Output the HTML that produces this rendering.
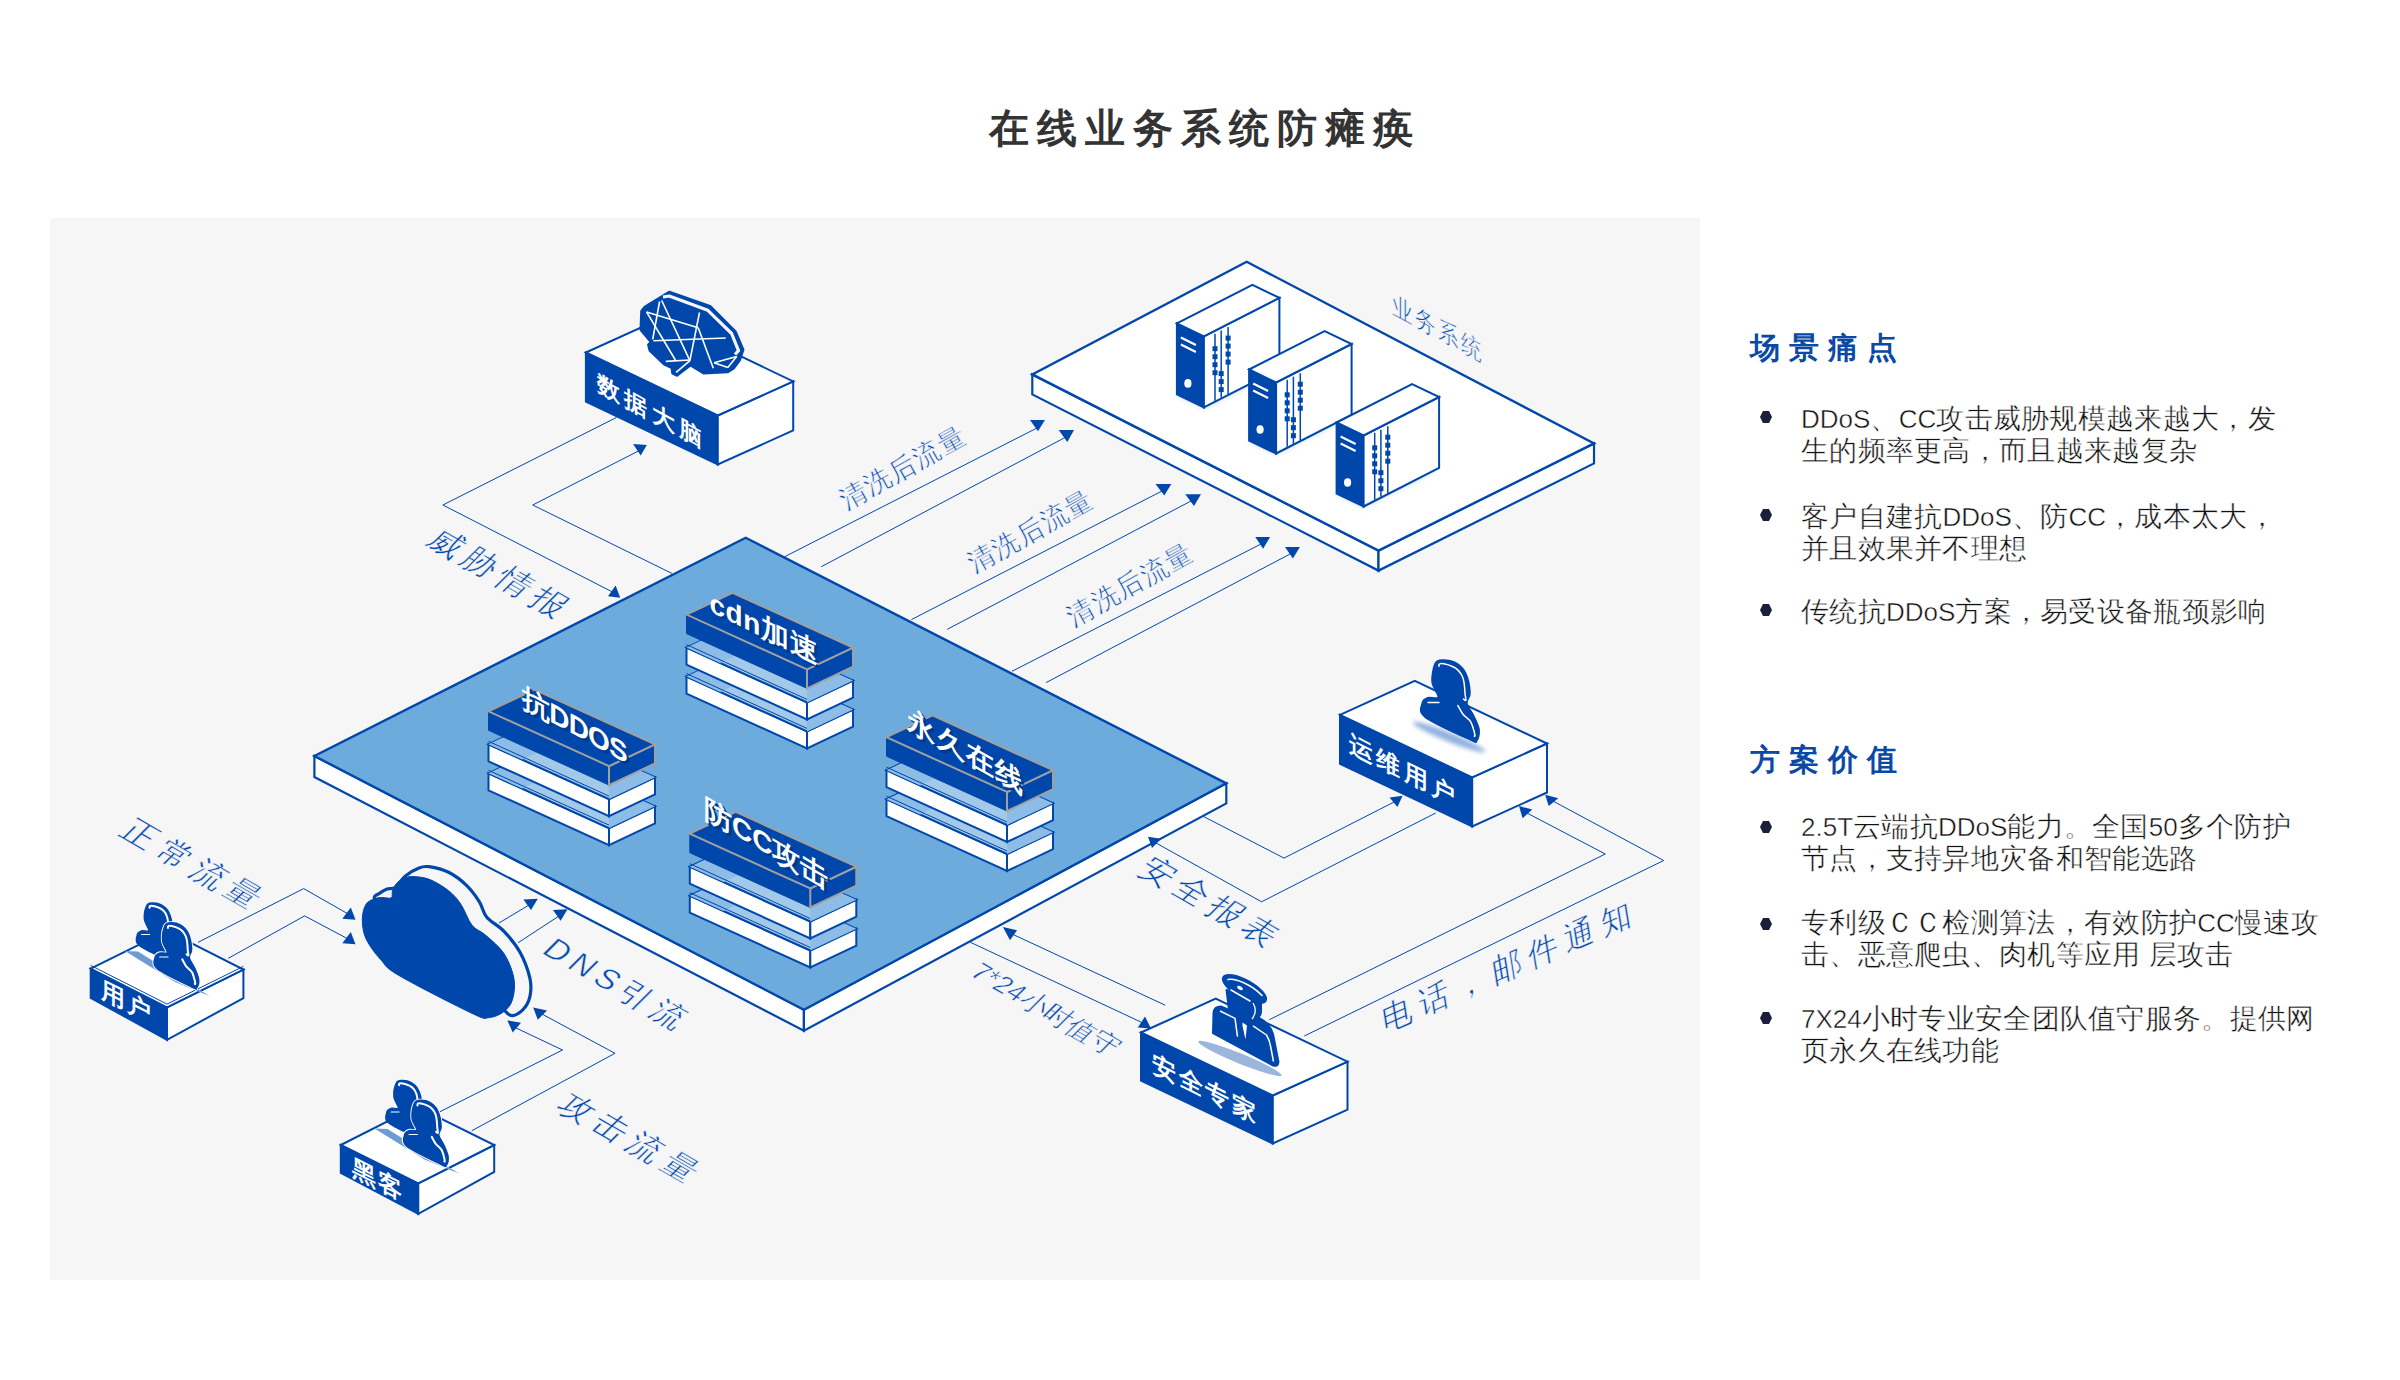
<!DOCTYPE html>
<html><head><meta charset="utf-8">
<style>
html,body{margin:0;padding:0;background:#fff;}
body{width:2400px;height:1380px;position:relative;overflow:hidden;font-family:"Liberation Sans",sans-serif;}
.abs{position:absolute;white-space:nowrap;}
#title{left:5px;width:2400px;top:100px;text-align:center;font-size:40px;font-weight:700;color:#333;letter-spacing:8px;line-height:56px;}
.h{font-size:30px;font-weight:700;color:#0a4aa6;letter-spacing:9px;line-height:40px;}
.li{font-size:28px;color:#111;line-height:32px;letter-spacing:0.3px;-webkit-text-stroke:0.45px #fff;}
.lat{font-size:26px;letter-spacing:0;}
.dot{position:absolute;width:12px;height:12px;background:#1b1f3b;clip-path:polygon(25% 0,75% 0,100% 50%,75% 100%,25% 100%,0 50%);}
svg{position:absolute;left:0;top:0;}
.lt{stroke:#f6f6f6;stroke-width:0.6px;}
</style></head><body>
<div class="abs" style="left:50px;top:218px;width:1650px;height:1062px;background:#f6f6f6;"></div>
<div id="title" class="abs">在线业务系统防瘫痪</div>
<div class="abs h" style="left:1750px;top:328px;">场景痛点</div>
<div class="abs h" style="left:1750px;top:740px;">方案价值</div>
<div class="dot" style="left:1760px;top:411px;"></div>
<div class="abs li" style="left:1801px;top:403px;"><span class="lat">DDoS</span>、<span class="lat">CC</span>攻击威胁规模越来越大，发<br>生的频率更高，而且越来越复杂</div>
<div class="dot" style="left:1760px;top:509px;"></div>
<div class="abs li" style="left:1801px;top:501px;">客户自建抗<span class="lat">DDoS</span>、防<span class="lat">CC</span>，成本太大，<br>并且效果并不理想</div>
<div class="dot" style="left:1760px;top:604px;"></div>
<div class="abs li" style="left:1801px;top:596px;">传统抗<span class="lat">DDoS</span>方案，易受设备瓶颈影响</div>
<div class="dot" style="left:1760px;top:821px;"></div>
<div class="abs li" style="left:1801px;top:811px;"><span class="lat">2.5T</span>云端抗<span class="lat">DDoS</span>能力。全国<span class="lat">50</span>多个防护<br>节点，支持异地灾备和智能选路</div>
<div class="dot" style="left:1760px;top:918px;"></div>
<div class="abs li" style="left:1801px;top:907px;">专利级ＣＣ检测算法，有效防护<span class="lat">CC</span>慢速攻<br>击、恶意爬虫、肉机等应用 层攻击</div>
<div class="dot" style="left:1760px;top:1012px;"></div>
<div class="abs li" style="left:1801px;top:1003px;"><span class="lat">7X24</span>小时专业安全团队值守服务。提供网<br>页永久在线功能</div>
<svg width="2400" height="1380" viewBox="0 0 2400 1380" style="font-family:'Liberation Sans',sans-serif"><polyline points="616.4,417.5 442.9,505.0 614.8,593.2" fill="none" stroke="#0047ab" stroke-width="1.0" />
<polyline points="671.9,573.4 532.7,505.0 640.0,450.2" fill="none" stroke="#0047ab" stroke-width="1.0" />
<polyline points="784.7,556.7 1037.0,428.0" fill="none" stroke="#0047ab" stroke-width="1.0" />
<polyline points="821.3,566.7 1066.0,437.0" fill="none" stroke="#0047ab" stroke-width="1.0" />
<polyline points="911.4,619.6 1162.0,491.0" fill="none" stroke="#0047ab" stroke-width="1.0" />
<polyline points="947.3,629.3 1191.0,501.0" fill="none" stroke="#0047ab" stroke-width="1.0" />
<polyline points="1012.0,671.3 1261.0,544.0" fill="none" stroke="#0047ab" stroke-width="1.0" />
<polyline points="1046.1,682.6 1291.0,553.5" fill="none" stroke="#0047ab" stroke-width="1.0" />
<polyline points="198.1,942.3 303.7,888.6 350.0,915.0" fill="none" stroke="#0047ab" stroke-width="1.0" />
<polyline points="228.3,958.3 304.6,915.9 350.0,940.0" fill="none" stroke="#0047ab" stroke-width="1.0" />
<polyline points="499.0,923.0 529.0,905.0" fill="none" stroke="#0047ab" stroke-width="1.0" />
<polyline points="518.0,942.8 559.0,916.0" fill="none" stroke="#0047ab" stroke-width="1.0" />
<polyline points="440.0,1111.7 562.5,1050.0 514.0,1027.0" fill="none" stroke="#0047ab" stroke-width="1.0" />
<polyline points="471.7,1130.8 615.0,1053.3 540.0,1013.0" fill="none" stroke="#0047ab" stroke-width="1.0" />
<polyline points="1012.0,934.0 1165.2,1005.2" fill="none" stroke="#0047ab" stroke-width="1.0" />
<polyline points="970.4,942.3 1143.0,1023.0" fill="none" stroke="#0047ab" stroke-width="1.0" />
<polyline points="1156.0,843.0 1261.6,901.8 1435.7,813.0" fill="none" stroke="#0047ab" stroke-width="1.0" />
<polyline points="1199.7,814.5 1284.0,858.1 1396.0,801.0" fill="none" stroke="#0047ab" stroke-width="1.0" />
<polyline points="1269.3,1019.7 1605.3,854.0 1525.0,812.0" fill="none" stroke="#0047ab" stroke-width="1.0" />
<polyline points="1304.3,1036.0 1663.7,860.5 1551.0,800.0" fill="none" stroke="#0047ab" stroke-width="1.0" />
<polygon points="314.4,756.0 803.9,1009.7 803.9,1030.7 314.4,777.0" fill="#fff" stroke="#0047ab" stroke-width="2.2" stroke-linejoin="miter" />
<polygon points="803.9,1009.7 1226.3,783.4 1226.3,803.4 803.9,1030.7" fill="#fff" stroke="#0047ab" stroke-width="2.2" stroke-linejoin="miter" />
<polygon points="745.7,537.8 314.4,756.0 803.9,1009.7 1226.3,783.4" fill="#6cabdc" stroke="#0047ab" stroke-width="2.4" stroke-linejoin="miter" />
<polygon points="686.5,676.6 807.0,731.4 807.0,748.4 686.5,693.6" fill="#fff" stroke="#0047ab" stroke-width="2" stroke-linejoin="miter" />
<polygon points="807.0,731.4 853.0,709.6 853.0,726.6 807.0,748.4" fill="#fff" stroke="#0047ab" stroke-width="2" stroke-linejoin="miter" />
<polygon points="686.5,676.6 732.5,654.8 853.0,709.6 807.0,731.4" fill="#a3c9ea" stroke="#0047ab" stroke-width="2" stroke-linejoin="miter" />
<polygon points="686.5,676.6 732.5,654.8 766.2,670.1 720.2,691.9" fill="#8dbde6" stroke="none" stroke-width="0" stroke-linejoin="miter" />
<polygon points="807.0,731.4 853.0,709.6 807.0,688.7" fill="#8dbde6" stroke="none" stroke-width="0" stroke-linejoin="miter" />
<polyline points="686.5,673.6 807.0,728.4" fill="none" stroke="#0047ab" stroke-width="1" />
<polygon points="686.5,647.6 807.0,702.4 807.0,719.4 686.5,664.6" fill="#fff" stroke="#0047ab" stroke-width="2" stroke-linejoin="miter" />
<polygon points="807.0,702.4 853.0,680.6 853.0,697.6 807.0,719.4" fill="#fff" stroke="#0047ab" stroke-width="2" stroke-linejoin="miter" />
<polygon points="686.5,647.6 732.5,625.8 853.0,680.6 807.0,702.4" fill="#a3c9ea" stroke="#0047ab" stroke-width="2" stroke-linejoin="miter" />
<polygon points="686.5,647.6 732.5,625.8 766.2,641.1 720.2,662.9" fill="#8dbde6" stroke="none" stroke-width="0" stroke-linejoin="miter" />
<polygon points="807.0,702.4 853.0,680.6 807.0,659.7" fill="#8dbde6" stroke="none" stroke-width="0" stroke-linejoin="miter" />
<polyline points="686.5,644.6 807.0,699.4" fill="none" stroke="#0047ab" stroke-width="1" />
<polygon points="686.5,614.6 807.0,669.4 807.0,688.4 686.5,633.6" fill="#0047ab" stroke="#0047ab" stroke-width="1" stroke-linejoin="miter" />
<polygon points="807.0,669.4 853.0,647.6 853.0,666.6 807.0,688.4" fill="#0047ab" stroke="#a0a0a0" stroke-width="2" stroke-linejoin="miter" />
<polygon points="686.5,614.6 732.5,592.8 853.0,647.6 807.0,669.4" fill="#0047ab" stroke="#a0a0a0" stroke-width="2" stroke-linejoin="miter" />
<polygon points="488.5,773.3 609.0,828.1 609.0,845.1 488.5,790.3" fill="#fff" stroke="#0047ab" stroke-width="2" stroke-linejoin="miter" />
<polygon points="609.0,828.1 655.0,806.3 655.0,823.3 609.0,845.1" fill="#fff" stroke="#0047ab" stroke-width="2" stroke-linejoin="miter" />
<polygon points="488.5,773.3 534.5,751.5 655.0,806.3 609.0,828.1" fill="#a3c9ea" stroke="#0047ab" stroke-width="2" stroke-linejoin="miter" />
<polygon points="488.5,773.3 534.5,751.5 568.2,766.8 522.2,788.6" fill="#8dbde6" stroke="none" stroke-width="0" stroke-linejoin="miter" />
<polygon points="609.0,828.1 655.0,806.3 609.0,785.4" fill="#8dbde6" stroke="none" stroke-width="0" stroke-linejoin="miter" />
<polyline points="488.5,770.3 609.0,825.1" fill="none" stroke="#0047ab" stroke-width="1" />
<polygon points="488.5,744.3 609.0,799.1 609.0,816.1 488.5,761.3" fill="#fff" stroke="#0047ab" stroke-width="2" stroke-linejoin="miter" />
<polygon points="609.0,799.1 655.0,777.3 655.0,794.3 609.0,816.1" fill="#fff" stroke="#0047ab" stroke-width="2" stroke-linejoin="miter" />
<polygon points="488.5,744.3 534.5,722.5 655.0,777.3 609.0,799.1" fill="#a3c9ea" stroke="#0047ab" stroke-width="2" stroke-linejoin="miter" />
<polygon points="488.5,744.3 534.5,722.5 568.2,737.8 522.2,759.6" fill="#8dbde6" stroke="none" stroke-width="0" stroke-linejoin="miter" />
<polygon points="609.0,799.1 655.0,777.3 609.0,756.4" fill="#8dbde6" stroke="none" stroke-width="0" stroke-linejoin="miter" />
<polyline points="488.5,741.3 609.0,796.1" fill="none" stroke="#0047ab" stroke-width="1" />
<polygon points="488.5,711.3 609.0,766.1 609.0,785.1 488.5,730.3" fill="#0047ab" stroke="#0047ab" stroke-width="1" stroke-linejoin="miter" />
<polygon points="609.0,766.1 655.0,744.3 655.0,763.3 609.0,785.1" fill="#0047ab" stroke="#a0a0a0" stroke-width="2" stroke-linejoin="miter" />
<polygon points="488.5,711.3 534.5,689.5 655.0,744.3 609.0,766.1" fill="#0047ab" stroke="#a0a0a0" stroke-width="2" stroke-linejoin="miter" />
<polygon points="886.5,799.2 1007.0,854.0 1007.0,871.0 886.5,816.2" fill="#fff" stroke="#0047ab" stroke-width="2" stroke-linejoin="miter" />
<polygon points="1007.0,854.0 1053.0,832.2 1053.0,849.2 1007.0,871.0" fill="#fff" stroke="#0047ab" stroke-width="2" stroke-linejoin="miter" />
<polygon points="886.5,799.2 932.5,777.4 1053.0,832.2 1007.0,854.0" fill="#a3c9ea" stroke="#0047ab" stroke-width="2" stroke-linejoin="miter" />
<polygon points="886.5,799.2 932.5,777.4 966.2,792.7 920.2,814.5" fill="#8dbde6" stroke="none" stroke-width="0" stroke-linejoin="miter" />
<polygon points="1007.0,854.0 1053.0,832.2 1007.0,811.3" fill="#8dbde6" stroke="none" stroke-width="0" stroke-linejoin="miter" />
<polyline points="886.5,796.2 1007.0,851.0" fill="none" stroke="#0047ab" stroke-width="1" />
<polygon points="886.5,770.2 1007.0,825.0 1007.0,842.0 886.5,787.2" fill="#fff" stroke="#0047ab" stroke-width="2" stroke-linejoin="miter" />
<polygon points="1007.0,825.0 1053.0,803.2 1053.0,820.2 1007.0,842.0" fill="#fff" stroke="#0047ab" stroke-width="2" stroke-linejoin="miter" />
<polygon points="886.5,770.2 932.5,748.4 1053.0,803.2 1007.0,825.0" fill="#a3c9ea" stroke="#0047ab" stroke-width="2" stroke-linejoin="miter" />
<polygon points="886.5,770.2 932.5,748.4 966.2,763.7 920.2,785.5" fill="#8dbde6" stroke="none" stroke-width="0" stroke-linejoin="miter" />
<polygon points="1007.0,825.0 1053.0,803.2 1007.0,782.3" fill="#8dbde6" stroke="none" stroke-width="0" stroke-linejoin="miter" />
<polyline points="886.5,767.2 1007.0,822.0" fill="none" stroke="#0047ab" stroke-width="1" />
<polygon points="886.5,737.2 1007.0,792.0 1007.0,811.0 886.5,756.2" fill="#0047ab" stroke="#0047ab" stroke-width="1" stroke-linejoin="miter" />
<polygon points="1007.0,792.0 1053.0,770.2 1053.0,789.2 1007.0,811.0" fill="#0047ab" stroke="#a0a0a0" stroke-width="2" stroke-linejoin="miter" />
<polygon points="886.5,737.2 932.5,715.4 1053.0,770.2 1007.0,792.0" fill="#0047ab" stroke="#a0a0a0" stroke-width="2" stroke-linejoin="miter" />
<polygon points="689.8,895.7 810.3,950.5 810.3,967.5 689.8,912.7" fill="#fff" stroke="#0047ab" stroke-width="2" stroke-linejoin="miter" />
<polygon points="810.3,950.5 856.3,928.7 856.3,945.7 810.3,967.5" fill="#fff" stroke="#0047ab" stroke-width="2" stroke-linejoin="miter" />
<polygon points="689.8,895.7 735.8,873.9 856.3,928.7 810.3,950.5" fill="#a3c9ea" stroke="#0047ab" stroke-width="2" stroke-linejoin="miter" />
<polygon points="689.8,895.7 735.8,873.9 769.5,889.2 723.5,911.0" fill="#8dbde6" stroke="none" stroke-width="0" stroke-linejoin="miter" />
<polygon points="810.3,950.5 856.3,928.7 810.3,907.8" fill="#8dbde6" stroke="none" stroke-width="0" stroke-linejoin="miter" />
<polyline points="689.8,892.7 810.3,947.5" fill="none" stroke="#0047ab" stroke-width="1" />
<polygon points="689.8,866.7 810.3,921.5 810.3,938.5 689.8,883.7" fill="#fff" stroke="#0047ab" stroke-width="2" stroke-linejoin="miter" />
<polygon points="810.3,921.5 856.3,899.7 856.3,916.7 810.3,938.5" fill="#fff" stroke="#0047ab" stroke-width="2" stroke-linejoin="miter" />
<polygon points="689.8,866.7 735.8,844.9 856.3,899.7 810.3,921.5" fill="#a3c9ea" stroke="#0047ab" stroke-width="2" stroke-linejoin="miter" />
<polygon points="689.8,866.7 735.8,844.9 769.5,860.2 723.5,882.0" fill="#8dbde6" stroke="none" stroke-width="0" stroke-linejoin="miter" />
<polygon points="810.3,921.5 856.3,899.7 810.3,878.8" fill="#8dbde6" stroke="none" stroke-width="0" stroke-linejoin="miter" />
<polyline points="689.8,863.7 810.3,918.5" fill="none" stroke="#0047ab" stroke-width="1" />
<polygon points="689.8,833.7 810.3,888.5 810.3,907.5 689.8,852.7" fill="#0047ab" stroke="#0047ab" stroke-width="1" stroke-linejoin="miter" />
<polygon points="810.3,888.5 856.3,866.7 856.3,885.7 810.3,907.5" fill="#0047ab" stroke="#a0a0a0" stroke-width="2" stroke-linejoin="miter" />
<polygon points="689.8,833.7 735.8,811.9 856.3,866.7 810.3,888.5" fill="#0047ab" stroke="#a0a0a0" stroke-width="2" stroke-linejoin="miter" />
<text transform="matrix(1.0000,0.4900,0.0000,1.0000,767.0,631.0)" x="0" y="0" text-anchor="middle" dominant-baseline="central" font-size="28" fill="#003a8c" font-weight="bold" letter-spacing="0.5" >cdn加速</text>
<text transform="matrix(1.0000,0.4900,0.0000,1.0000,764.0,628.0)" x="0" y="0" text-anchor="middle" dominant-baseline="central" font-size="28" fill="#fff" font-weight="bold" letter-spacing="0.5" >cdn加速</text>
<text transform="matrix(1.0000,0.5500,0.0000,1.0000,577.5,728.0)" x="0" y="0" text-anchor="middle" dominant-baseline="central" font-size="28" fill="#003a8c" font-weight="bold" letter-spacing="-0.8" >抗DDOS</text>
<text transform="matrix(1.0000,0.5500,0.0000,1.0000,574.5,725.0)" x="0" y="0" text-anchor="middle" dominant-baseline="central" font-size="28" fill="#fff" font-weight="bold" letter-spacing="-0.8" >抗DDOS</text>
<text transform="matrix(1.0000,0.5700,0.0000,1.0000,969.0,754.5)" x="0" y="0" text-anchor="middle" dominant-baseline="central" font-size="28" fill="#003a8c" font-weight="bold" letter-spacing="1.5" >永久在线</text>
<text transform="matrix(1.0000,0.5700,0.0000,1.0000,966.0,751.5)" x="0" y="0" text-anchor="middle" dominant-baseline="central" font-size="28" fill="#fff" font-weight="bold" letter-spacing="1.5" >永久在线</text>
<text transform="matrix(1.0000,0.5900,0.0000,1.0000,769.0,846.5)" x="0" y="0" text-anchor="middle" dominant-baseline="central" font-size="28" fill="#003a8c" font-weight="bold" letter-spacing="0" >防CC攻击</text>
<text transform="matrix(1.0000,0.5900,0.0000,1.0000,766.0,843.5)" x="0" y="0" text-anchor="middle" dominant-baseline="central" font-size="28" fill="#fff" font-weight="bold" letter-spacing="0" >防CC攻击</text>
<polygon points="585.9,352.5 717.8,415.5 717.8,464.5 585.9,401.5" fill="#0047ab" stroke="#0047ab" stroke-width="2" stroke-linejoin="miter" />
<polygon points="717.8,415.5 793.2,381.4 793.2,430.4 717.8,464.5" fill="#fff" stroke="#0047ab" stroke-width="2" stroke-linejoin="miter" />
<polygon points="585.9,352.5 661.3,318.4 793.2,381.4 717.8,415.5" fill="#fff" stroke="#0047ab" stroke-width="2" stroke-linejoin="miter" />
<polygon points="669.2,292.2 709.9,306.3 735.3,331.8 742.9,349.7 739.5,360.0 733.3,368.3 727.8,371.7 703.7,373.1 690.6,364.9 676.8,375.2 672.7,373.1 672.0,367.6 664.4,364.2 650.0,350.4 648.6,344.9 651.3,342.1 641.0,329.8 641.7,311.2 645.1,307.0" fill="#0047ab" stroke="#0047ab" stroke-width="3" stroke-linejoin="round"/>
<polyline points="663,297 669.2,296 707.8,310.3 731.6,333.5 738.5,350.6 735,354.5" fill="none" stroke="#f6f6f6" stroke-width="3.2" stroke-linejoin="round"/>
<line x1="646.5" y1="311.9" x2="698.2" y2="327.7" stroke="#fff" stroke-width="1.6"/>
<line x1="661.7" y1="300.5" x2="689.9" y2="360.7" stroke="#fff" stroke-width="1.6"/>
<line x1="659.6" y1="301.5" x2="652.7" y2="339.4" stroke="#fff" stroke-width="1.6"/>
<line x1="646.5" y1="311.9" x2="675.4" y2="360" stroke="#fff" stroke-width="1.6"/>
<line x1="653.4" y1="340.8" x2="725.7" y2="338" stroke="#fff" stroke-width="1.6"/>
<line x1="699.5" y1="312.5" x2="689.9" y2="360.7" stroke="#fff" stroke-width="1.6"/>
<line x1="698.2" y1="327.7" x2="713.3" y2="368.3" stroke="#fff" stroke-width="1.6"/>
<line x1="665.8" y1="361.4" x2="689.9" y2="360" stroke="#fff" stroke-width="1.6"/>
<line x1="714" y1="362.8" x2="736.7" y2="356.6" stroke="#fff" stroke-width="1.6"/>
<line x1="736.7" y1="356.6" x2="727.8" y2="367.6" stroke="#fff" stroke-width="1.6"/>
<line x1="727.8" y1="367.6" x2="714" y2="362.8" stroke="#fff" stroke-width="1.6"/>
<line x1="689.9" y1="360.7" x2="676.1" y2="372.4" stroke="#fff" stroke-width="1.6"/>
<text transform="matrix(1.0000,0.5500,0.0000,1.0000,651.7,412.0)" x="0" y="0" text-anchor="middle" dominant-baseline="central" font-size="23" fill="#fff" font-weight="bold" letter-spacing="4" >数据大脑</text>
<polygon points="1032.3,374.4 1378.5,550.6 1378.5,570.6 1032.3,394.4" fill="#fff" stroke="#0047ab" stroke-width="2.2" stroke-linejoin="miter" />
<polygon points="1378.5,550.6 1594.0,443.4 1594.0,463.4 1378.5,570.6" fill="#fff" stroke="#0047ab" stroke-width="2.2" stroke-linejoin="miter" />
<polygon points="1246.7,261.8 1032.3,374.4 1378.5,550.6 1594.0,443.4" fill="#fff" stroke="#0047ab" stroke-width="2.4" stroke-linejoin="miter" />
<defs><filter id="blur" x="-50%" y="-50%" width="200%" height="200%"><feGaussianBlur stdDeviation="3"/></filter><filter id="blur2" x="-50%" y="-50%" width="200%" height="200%"><feGaussianBlur stdDeviation="2.2"/></filter></defs>
<polygon points="1176.9,394.4 1203.9,407.4 1279.4,368.9" fill="#7aa6dd" opacity="0.5" filter="url(#blur)"/>
<polygon points="1176.9,323.4 1203.9,336.4 1203.9,407.4 1176.9,394.4" fill="#0047ab" stroke="#0047ab" stroke-width="2" stroke-linejoin="miter" />
<polygon points="1203.9,336.4 1279.4,297.9 1279.4,368.9 1203.9,407.4" fill="#fff" stroke="#0047ab" stroke-width="2" stroke-linejoin="miter" />
<polygon points="1176.9,323.4 1252.4,284.9 1279.4,297.9 1203.9,336.4" fill="#fff" stroke="#0047ab" stroke-width="2" stroke-linejoin="miter" />
<line x1="1180.9" y1="337.4" x2="1195.9" y2="344.9" stroke="#fff" stroke-width="2.2"/>
<line x1="1180.9" y1="344.4" x2="1195.9" y2="351.9" stroke="#fff" stroke-width="2.2"/>
<ellipse cx="1187.9" cy="383.4" rx="3.6" ry="4.3" fill="#fff"/>
<line x1="1215.0" y1="333.7" x2="1215.0" y2="400.7" stroke="#0047ab" stroke-width="1.5"/>
<line x1="1221.2" y1="330.6" x2="1221.2" y2="397.6" stroke="#0047ab" stroke-width="1.5"/>
<line x1="1228.1" y1="327.1" x2="1228.1" y2="394.1" stroke="#0047ab" stroke-width="1.5"/>
<rect x="1212.5" y="346.2" width="5" height="5" fill="#0047ab"/>
<rect x="1212.5" y="354.2" width="5" height="5" fill="#0047ab"/>
<rect x="1212.5" y="362.2" width="5" height="5" fill="#0047ab"/>
<rect x="1212.5" y="370.2" width="5" height="5" fill="#0047ab"/>
<rect x="1218.7" y="371.1" width="5" height="5" fill="#0047ab"/>
<rect x="1218.7" y="379.1" width="5" height="5" fill="#0047ab"/>
<rect x="1218.7" y="387.1" width="5" height="5" fill="#0047ab"/>
<rect x="1225.6" y="335.6" width="5" height="5" fill="#0047ab"/>
<rect x="1225.6" y="343.6" width="5" height="5" fill="#0047ab"/>
<rect x="1225.6" y="351.6" width="5" height="5" fill="#0047ab"/>
<rect x="1225.6" y="359.6" width="5" height="5" fill="#0047ab"/>
<polygon points="1249.1,440.5 1276.1,453.5 1351.6,415.0" fill="#7aa6dd" opacity="0.5" filter="url(#blur)"/>
<polygon points="1249.1,369.5 1276.1,382.5 1276.1,453.5 1249.1,440.5" fill="#0047ab" stroke="#0047ab" stroke-width="2" stroke-linejoin="miter" />
<polygon points="1276.1,382.5 1351.6,344.0 1351.6,415.0 1276.1,453.5" fill="#fff" stroke="#0047ab" stroke-width="2" stroke-linejoin="miter" />
<polygon points="1249.1,369.5 1324.6,331.0 1351.6,344.0 1276.1,382.5" fill="#fff" stroke="#0047ab" stroke-width="2" stroke-linejoin="miter" />
<line x1="1253.1" y1="383.5" x2="1268.1" y2="391.0" stroke="#fff" stroke-width="2.2"/>
<line x1="1253.1" y1="390.5" x2="1268.1" y2="398.0" stroke="#fff" stroke-width="2.2"/>
<ellipse cx="1260.1" cy="429.5" rx="3.6" ry="4.3" fill="#fff"/>
<line x1="1287.2" y1="379.8" x2="1287.2" y2="446.8" stroke="#0047ab" stroke-width="1.5"/>
<line x1="1293.4" y1="376.7" x2="1293.4" y2="443.7" stroke="#0047ab" stroke-width="1.5"/>
<line x1="1300.3" y1="373.2" x2="1300.3" y2="440.2" stroke="#0047ab" stroke-width="1.5"/>
<rect x="1284.7" y="392.3" width="5" height="5" fill="#0047ab"/>
<rect x="1284.7" y="400.3" width="5" height="5" fill="#0047ab"/>
<rect x="1284.7" y="408.3" width="5" height="5" fill="#0047ab"/>
<rect x="1284.7" y="416.3" width="5" height="5" fill="#0047ab"/>
<rect x="1290.9" y="417.2" width="5" height="5" fill="#0047ab"/>
<rect x="1290.9" y="425.2" width="5" height="5" fill="#0047ab"/>
<rect x="1290.9" y="433.2" width="5" height="5" fill="#0047ab"/>
<rect x="1297.8" y="381.7" width="5" height="5" fill="#0047ab"/>
<rect x="1297.8" y="389.7" width="5" height="5" fill="#0047ab"/>
<rect x="1297.8" y="397.7" width="5" height="5" fill="#0047ab"/>
<rect x="1297.8" y="405.7" width="5" height="5" fill="#0047ab"/>
<polygon points="1336.6,493.5 1363.6,506.5 1439.1,468.0" fill="#7aa6dd" opacity="0.5" filter="url(#blur)"/>
<polygon points="1336.6,422.5 1363.6,435.5 1363.6,506.5 1336.6,493.5" fill="#0047ab" stroke="#0047ab" stroke-width="2" stroke-linejoin="miter" />
<polygon points="1363.6,435.5 1439.1,397.0 1439.1,468.0 1363.6,506.5" fill="#fff" stroke="#0047ab" stroke-width="2" stroke-linejoin="miter" />
<polygon points="1336.6,422.5 1412.1,384.0 1439.1,397.0 1363.6,435.5" fill="#fff" stroke="#0047ab" stroke-width="2" stroke-linejoin="miter" />
<line x1="1340.6" y1="436.5" x2="1355.6" y2="444.0" stroke="#fff" stroke-width="2.2"/>
<line x1="1340.6" y1="443.5" x2="1355.6" y2="451.0" stroke="#fff" stroke-width="2.2"/>
<ellipse cx="1347.6" cy="482.5" rx="3.6" ry="4.3" fill="#fff"/>
<line x1="1374.7" y1="432.8" x2="1374.7" y2="499.8" stroke="#0047ab" stroke-width="1.5"/>
<line x1="1380.9" y1="429.7" x2="1380.9" y2="496.7" stroke="#0047ab" stroke-width="1.5"/>
<line x1="1387.8" y1="426.2" x2="1387.8" y2="493.2" stroke="#0047ab" stroke-width="1.5"/>
<rect x="1372.2" y="445.3" width="5" height="5" fill="#0047ab"/>
<rect x="1372.2" y="453.3" width="5" height="5" fill="#0047ab"/>
<rect x="1372.2" y="461.3" width="5" height="5" fill="#0047ab"/>
<rect x="1372.2" y="469.3" width="5" height="5" fill="#0047ab"/>
<rect x="1378.4" y="470.2" width="5" height="5" fill="#0047ab"/>
<rect x="1378.4" y="478.2" width="5" height="5" fill="#0047ab"/>
<rect x="1378.4" y="486.2" width="5" height="5" fill="#0047ab"/>
<rect x="1385.3" y="434.7" width="5" height="5" fill="#0047ab"/>
<rect x="1385.3" y="442.7" width="5" height="5" fill="#0047ab"/>
<rect x="1385.3" y="450.7" width="5" height="5" fill="#0047ab"/>
<rect x="1385.3" y="458.7" width="5" height="5" fill="#0047ab"/>
<text transform="matrix(0.9000,0.4860,0.0000,1.1000,1438.0,328.5)" x="0" y="0" text-anchor="middle" dominant-baseline="central" font-size="23" fill="#0047ab" font-weight="normal" letter-spacing="2.9" class="lt">业务系统</text>
<path d="M374.6,899.4 C372.9,894.9 377.5,895.0 379.6,893.2 C381.7,891.5 384.3,889.9 387.0,888.9 C389.7,887.9 392.5,889.5 395.6,887.3 C398.7,885.1 401.5,879.1 405.4,875.9 C409.3,872.7 415.1,869.4 419.0,867.9 C422.9,866.4 424.0,866.0 428.9,866.7 C433.8,867.4 442.2,869.1 448.6,872.3 C455.0,875.5 461.9,880.9 467.0,885.8 C472.1,890.7 476.1,896.6 479.4,901.8 C482.7,907.0 482.7,912.3 486.8,917.2 C490.9,922.1 498.5,925.5 504.0,931.4 C509.5,937.2 515.7,944.5 520.0,952.3 C524.3,960.1 528.2,970.8 529.9,978.2 C531.5,985.6 531.1,991.4 529.9,996.7 C528.7,1002.0 525.8,1007.1 522.5,1010.2 C519.2,1013.3 514.8,1016.9 510.2,1015.2 C505.6,1013.5 506.7,1010.9 495.0,1000.0 C483.3,989.1 457.5,963.3 440.0,950.0 C422.5,936.7 400.9,928.4 390.0,920.0 C379.1,911.6 376.3,903.9 374.6,899.4 Z" fill="#f6f6f6" stroke="#0047ab" stroke-width="3.2" stroke-linejoin="round"/>
<path d="M362.3,919.1 C362.3,913.4 363.9,907.7 366.0,904.3 C368.1,900.9 371.9,899.8 374.6,898.7 C377.3,897.6 379.2,897.8 382.0,897.6 C384.8,897.5 389.6,898.9 391.3,897.8 C393.1,896.6 391.6,893.1 392.5,890.7 C393.4,888.3 394.7,885.4 396.8,883.3 C398.9,881.1 402.5,878.9 405.4,877.8 C408.3,876.7 409.9,876.3 414.0,876.6 C418.1,876.9 424.2,877.2 430.0,879.6 C435.8,882.0 443.5,886.6 448.6,890.7 C453.8,894.8 457.0,898.5 460.9,904.3 C464.8,910.0 467.9,920.1 472.0,925.2 C476.1,930.3 480.2,930.4 485.5,935.1 C490.8,939.8 499.3,946.4 504.0,953.6 C508.7,960.8 512.5,970.6 513.9,978.2 C515.3,985.8 514.2,993.7 512.6,999.2 C511.0,1004.8 507.9,1008.4 504.0,1011.5 C500.1,1014.6 494.3,1017.2 489.2,1017.6 C484.1,1018.0 488.2,1020.9 473.2,1013.9 C458.2,1006.9 414.7,984.7 399.3,975.7 C383.9,966.7 386.4,965.9 380.8,959.7 C375.2,953.6 369.1,945.6 366.0,938.8 C362.9,932.0 362.3,924.9 362.3,919.1 Z" fill="#0047ab" stroke="#0047ab" stroke-width="1"/>
<polygon points="90.7,968.6 167.0,1007.3 167.0,1039.8 90.7,997.9" fill="#0047ab" stroke="#0047ab" stroke-width="2" stroke-linejoin="miter" />
<polygon points="167.0,1007.3 243.4,969.6 243.4,998.1 167.0,1039.8" fill="#fff" stroke="#0047ab" stroke-width="2" stroke-linejoin="miter" />
<polygon points="90.7,968.6 167.1,930.9 243.4,969.6 167.0,1007.3" fill="#fff" stroke="#0047ab" stroke-width="2" stroke-linejoin="miter" />
<polygon points="340.8,1145.0 418.3,1183.3 418.3,1213.8 340.8,1173.0" fill="#0047ab" stroke="#0047ab" stroke-width="2" stroke-linejoin="miter" />
<polygon points="418.3,1183.3 494.2,1145.0 494.2,1172.0 418.3,1213.8" fill="#fff" stroke="#0047ab" stroke-width="2" stroke-linejoin="miter" />
<polygon points="340.8,1145.0 416.7,1106.7 494.2,1145.0 418.3,1183.3" fill="#fff" stroke="#0047ab" stroke-width="2" stroke-linejoin="miter" />
<polygon points="1340.0,714.8 1472.2,777.4 1472.2,826.4 1340.0,763.8" fill="#0047ab" stroke="#0047ab" stroke-width="2" stroke-linejoin="miter" />
<polygon points="1472.2,777.4 1547.0,743.5 1547.0,792.5 1472.2,826.4" fill="#fff" stroke="#0047ab" stroke-width="2" stroke-linejoin="miter" />
<polygon points="1340.0,714.8 1414.8,680.9 1547.0,743.5 1472.2,777.4" fill="#fff" stroke="#0047ab" stroke-width="2" stroke-linejoin="miter" />
<polygon points="1141.0,1032.5 1272.8,1095.5 1272.8,1143.5 1141.0,1080.5" fill="#0047ab" stroke="#0047ab" stroke-width="2" stroke-linejoin="miter" />
<polygon points="1272.8,1095.5 1347.5,1061.7 1347.5,1109.7 1272.8,1143.5" fill="#fff" stroke="#0047ab" stroke-width="2" stroke-linejoin="miter" />
<polygon points="1141.0,1032.5 1215.7,998.7 1347.5,1061.7 1272.8,1095.5" fill="#fff" stroke="#0047ab" stroke-width="2" stroke-linejoin="miter" />
<polyline points="90.7,965.4 167.0,1004.1 243.4,966.4" fill="none" stroke="#0047ab" stroke-width="1.0" />
<text transform="matrix(1.0000,0.5000,0.0000,1.0000,127.5,1001.5)" x="0" y="0" text-anchor="middle" dominant-baseline="central" font-size="24" fill="#fff" font-weight="bold" letter-spacing="3" >用户</text>
<text transform="matrix(1.0000,0.5000,0.0000,1.0000,378.3,1180.0)" x="0" y="0" text-anchor="middle" dominant-baseline="central" font-size="24" fill="#fff" font-weight="bold" letter-spacing="3" >黑客</text>
<text transform="matrix(1.0000,0.5000,0.0000,1.0000,1403.9,770.5)" x="0" y="0" text-anchor="middle" dominant-baseline="central" font-size="24" fill="#fff" font-weight="bold" letter-spacing="4" >运维用户</text>
<text transform="matrix(1.0000,0.5000,0.0000,1.0000,1205.2,1089.0)" x="0" y="0" text-anchor="middle" dominant-baseline="central" font-size="24" fill="#fff" font-weight="bold" letter-spacing="3" >安全专家</text>
<polygon points="125.0,951.0 138.0,951.5 209.5,996.0 175.0,982.0" fill="#6f9ad3"/>
<path d="M152.5,903.4 C154.9,903.3 158.5,903.7 161.2,905.2 C163.9,906.8 166.8,909.0 168.5,912.6 C170.3,916.3 171.7,923.5 171.9,927.3 C172.0,931.1 169.2,932.3 169.6,935.2 C170.1,938.1 173.1,941.5 174.6,944.8 C176.1,948.0 178.1,951.9 178.5,954.9 C178.8,957.9 177.9,961.7 176.8,962.8 C175.7,964.0 178.2,964.8 172.1,961.9 C165.9,958.9 145.6,949.8 139.8,945.4 C134.1,940.9 137.4,937.6 137.6,935.2 C137.9,932.9 139.5,932.1 141.5,931.3 C143.4,930.5 148.7,932.7 149.2,930.7 C149.8,928.7 145.2,923.6 144.8,919.5 C144.4,915.3 145.7,908.6 147.0,905.9 C148.3,903.2 150.1,903.5 152.5,903.4 Z" fill="#0047ab" stroke="#0047ab" stroke-width="2.2" stroke-linejoin="round"/>
<path d="M149.6,907.8 C148.3,903.9 156.9,906.9 159.8,908.2 C162.6,909.5 165.2,912.3 166.6,915.6 C168.1,918.9 168.3,925.1 168.5,927.8 C168.6,930.6 170.5,935.4 167.4,932.0 " fill="none" stroke="#fff" stroke-width="2.00" stroke-linecap="round"/>
<path d="M163.6,937.4 C162.2,934.8 165.5,941.4 167.0,943.4 C168.5,945.3 171.4,946.6 172.8,949.3 C174.2,952.0 176.7,961.4 175.2,959.4 " fill="none" stroke="#fff" stroke-width="2.00" stroke-linecap="round"/>
<line x1="141.6" y1="934.6" x2="149.6" y2="934.6" stroke="#fff" stroke-width="1.04" stroke-linecap="round"/>
<path d="M171.0,923.2 C173.5,923.1 177.3,923.5 180.1,925.2 C182.9,926.9 185.9,929.2 187.8,933.2 C189.7,937.2 191.1,945.0 191.3,949.0 C191.5,953.1 188.5,954.5 188.9,957.6 C189.4,960.7 192.6,964.4 194.2,967.9 C195.7,971.5 197.8,975.6 198.2,978.9 C198.6,982.1 197.6,986.2 196.5,987.4 C195.3,988.7 198.0,989.5 191.5,986.4 C185.1,983.3 163.7,973.4 157.7,968.6 C151.7,963.8 155.1,960.1 155.4,957.6 C155.7,955.1 157.4,954.2 159.4,953.4 C161.5,952.5 167.0,954.9 167.6,952.7 C168.2,950.6 163.3,945.0 162.9,940.6 C162.6,936.1 163.9,928.8 165.2,925.9 C166.6,923.0 168.5,923.3 171.0,923.2 Z" fill="#0047ab" stroke="#fff" stroke-width="4" stroke-linejoin="round"/>
<path d="M171.0,923.2 C173.5,923.1 177.3,923.5 180.1,925.2 C182.9,926.9 185.9,929.2 187.8,933.2 C189.7,937.2 191.1,945.0 191.3,949.0 C191.5,953.1 188.5,954.5 188.9,957.6 C189.4,960.7 192.6,964.4 194.2,967.9 C195.7,971.5 197.8,975.6 198.2,978.9 C198.6,982.1 197.6,986.2 196.5,987.4 C195.3,988.7 198.0,989.5 191.5,986.4 C185.1,983.3 163.7,973.4 157.7,968.6 C151.7,963.8 155.1,960.1 155.4,957.6 C155.7,955.1 157.4,954.2 159.4,953.4 C161.5,952.5 167.0,954.9 167.6,952.7 C168.2,950.6 163.3,945.0 162.9,940.6 C162.6,936.1 163.9,928.8 165.2,925.9 C166.6,923.0 168.5,923.3 171.0,923.2 Z" fill="#0047ab" stroke="#0047ab" stroke-width="2.2" stroke-linejoin="round"/>
<path d="M168.0,928.0 C166.6,923.7 175.6,927.0 178.6,928.4 C181.6,929.8 184.3,932.9 185.8,936.4 C187.3,939.9 187.6,946.6 187.7,949.6 C187.8,952.6 189.9,957.8 186.6,954.2 " fill="none" stroke="#fff" stroke-width="2.00" stroke-linecap="round"/>
<path d="M182.6,960.0 C181.2,957.1 184.6,964.3 186.2,966.4 C187.8,968.5 190.8,969.9 192.3,972.8 C193.7,975.7 196.4,985.9 194.8,983.8 " fill="none" stroke="#fff" stroke-width="2.00" stroke-linecap="round"/>
<line x1="159.6" y1="957.0" x2="168.0" y2="957.0" stroke="#fff" stroke-width="1.12" stroke-linecap="round"/>
<polygon points="374.5,1128.5 387.5,1129.0 459.0,1173.5 424.5,1159.5" fill="#6f9ad3"/>
<path d="M402.0,1080.9 C404.4,1080.8 408.0,1081.2 410.7,1082.8 C413.4,1084.3 416.3,1086.5 418.0,1090.2 C419.8,1093.8 421.2,1101.0 421.4,1104.8 C421.5,1108.6 418.7,1109.8 419.1,1112.7 C419.6,1115.6 422.6,1119.0 424.1,1122.3 C425.6,1125.5 427.6,1129.4 428.0,1132.4 C428.3,1135.4 427.4,1139.2 426.3,1140.3 C425.2,1141.5 427.7,1142.3 421.6,1139.4 C415.4,1136.4 395.1,1127.3 389.3,1122.9 C383.6,1118.4 386.9,1115.1 387.1,1112.7 C387.4,1110.4 389.0,1109.6 391.0,1108.8 C392.9,1108.0 398.2,1110.2 398.7,1108.2 C399.3,1106.2 394.7,1101.1 394.3,1097.0 C393.9,1092.8 395.2,1086.1 396.5,1083.4 C397.8,1080.7 399.6,1081.0 402.0,1080.9 Z" fill="#0047ab" stroke="#0047ab" stroke-width="2.2" stroke-linejoin="round"/>
<path d="M399.1,1085.3 C397.8,1081.4 406.4,1084.4 409.3,1085.7 C412.1,1087.0 414.7,1089.8 416.1,1093.1 C417.6,1096.4 417.8,1102.6 418.0,1105.3 C418.1,1108.1 420.0,1112.9 416.9,1109.5 " fill="none" stroke="#fff" stroke-width="2.00" stroke-linecap="round"/>
<path d="M413.1,1114.9 C411.7,1112.3 415.0,1118.9 416.5,1120.9 C418.0,1122.8 420.9,1124.1 422.3,1126.8 C423.7,1129.5 426.2,1138.9 424.7,1136.9 " fill="none" stroke="#fff" stroke-width="2.00" stroke-linecap="round"/>
<line x1="391.1" y1="1112.1" x2="399.1" y2="1112.1" stroke="#fff" stroke-width="1.04" stroke-linecap="round"/>
<path d="M420.5,1100.7 C423.0,1100.6 426.8,1101.0 429.6,1102.7 C432.4,1104.4 435.4,1106.7 437.3,1110.7 C439.2,1114.7 440.6,1122.5 440.8,1126.5 C441.0,1130.6 438.0,1132.0 438.4,1135.1 C438.9,1138.2 442.1,1141.9 443.7,1145.4 C445.2,1149.0 447.3,1153.1 447.7,1156.4 C448.1,1159.6 447.1,1163.7 446.0,1164.9 C444.8,1166.2 447.5,1167.0 441.0,1163.9 C434.6,1160.8 413.2,1150.9 407.2,1146.1 C401.2,1141.3 404.6,1137.6 404.9,1135.1 C405.2,1132.6 406.9,1131.7 408.9,1130.9 C411.0,1130.0 416.5,1132.4 417.1,1130.2 C417.7,1128.1 412.8,1122.5 412.4,1118.1 C412.1,1113.6 413.4,1106.3 414.7,1103.4 C416.1,1100.5 418.0,1100.8 420.5,1100.7 Z" fill="#0047ab" stroke="#fff" stroke-width="4" stroke-linejoin="round"/>
<path d="M420.5,1100.7 C423.0,1100.6 426.8,1101.0 429.6,1102.7 C432.4,1104.4 435.4,1106.7 437.3,1110.7 C439.2,1114.7 440.6,1122.5 440.8,1126.5 C441.0,1130.6 438.0,1132.0 438.4,1135.1 C438.9,1138.2 442.1,1141.9 443.7,1145.4 C445.2,1149.0 447.3,1153.1 447.7,1156.4 C448.1,1159.6 447.1,1163.7 446.0,1164.9 C444.8,1166.2 447.5,1167.0 441.0,1163.9 C434.6,1160.8 413.2,1150.9 407.2,1146.1 C401.2,1141.3 404.6,1137.6 404.9,1135.1 C405.2,1132.6 406.9,1131.7 408.9,1130.9 C411.0,1130.0 416.5,1132.4 417.1,1130.2 C417.7,1128.1 412.8,1122.5 412.4,1118.1 C412.1,1113.6 413.4,1106.3 414.7,1103.4 C416.1,1100.5 418.0,1100.8 420.5,1100.7 Z" fill="#0047ab" stroke="#0047ab" stroke-width="2.2" stroke-linejoin="round"/>
<path d="M417.5,1105.5 C416.1,1101.2 425.1,1104.5 428.1,1105.9 C431.1,1107.3 433.8,1110.4 435.3,1113.9 C436.8,1117.4 437.1,1124.1 437.2,1127.1 C437.3,1130.1 439.4,1135.3 436.1,1131.7 " fill="none" stroke="#fff" stroke-width="2.00" stroke-linecap="round"/>
<path d="M432.1,1137.5 C430.7,1134.6 434.1,1141.8 435.7,1143.9 C437.3,1146.0 440.3,1147.4 441.8,1150.3 C443.2,1153.2 445.9,1163.4 444.3,1161.3 " fill="none" stroke="#fff" stroke-width="2.00" stroke-linecap="round"/>
<line x1="409.1" y1="1134.5" x2="417.5" y2="1134.5" stroke="#fff" stroke-width="1.12" stroke-linecap="round"/>
<ellipse cx="1449" cy="737" rx="39" ry="4.5" transform="rotate(22 1449 737)" fill="#8fb0de" filter="url(#blur2)"/>
<path d="M1443.0,660.3 C1446.3,660.1 1451.3,660.7 1455.0,662.8 C1458.7,664.9 1462.6,667.8 1465.1,672.8 C1467.5,677.8 1469.5,687.5 1469.7,692.6 C1470.0,697.7 1466.0,699.4 1466.6,703.3 C1467.2,707.2 1471.5,711.8 1473.5,716.2 C1475.5,720.6 1478.3,725.8 1478.8,729.9 C1479.3,734.0 1478.0,739.0 1476.5,740.6 C1475.0,742.2 1478.5,743.2 1470.0,739.3 C1461.5,735.4 1433.4,723.0 1425.5,717.0 C1417.6,711.0 1422.1,706.5 1422.5,703.3 C1422.9,700.1 1425.1,699.0 1427.8,698.0 C1430.5,697.0 1437.7,699.9 1438.5,697.2 C1439.3,694.5 1432.9,687.6 1432.4,682.0 C1431.9,676.4 1433.6,667.3 1435.4,663.7 C1437.2,660.1 1439.7,660.4 1443.0,660.3 Z" fill="#0047ab" stroke="#0047ab" stroke-width="2.2" stroke-linejoin="round"/>
<path d="M1439.0,666.3 C1437.2,660.9 1449.1,665.0 1453.0,666.8 C1456.9,668.5 1460.5,672.4 1462.5,676.8 C1464.5,681.2 1464.8,689.6 1465.0,693.3 C1465.2,697.0 1467.8,703.5 1463.5,699.0 " fill="none" stroke="#fff" stroke-width="1.50" stroke-linecap="round"/>
<path d="M1458.3,706.3 C1456.4,702.7 1460.9,711.6 1463.0,714.3 C1465.1,717.0 1469.1,718.7 1471.0,722.3 C1472.9,725.9 1476.4,738.7 1474.3,736.0 " fill="none" stroke="#fff" stroke-width="1.50" stroke-linecap="round"/>
<line x1="1428.0" y1="702.5" x2="1439.0" y2="702.5" stroke="#fff" stroke-width="1.40" stroke-linecap="round"/>
<ellipse cx="1240" cy="1058.5" rx="45" ry="5" transform="rotate(22.3 1240 1058.5)" fill="#9ab6dd"/>
<path d="M1213,1033 L1213.5,1013 Q1214,1006.5 1221,1006.5 L1229,1010 L1259,1018 Q1270,1024 1273,1034 L1278.5,1062 Q1278,1067 1273,1065.5 Z" fill="#0047ab" stroke="#0047ab" stroke-width="2" stroke-linejoin="round"/>
<path d="M1226.5,990 L1229,1010 L1240,1018.5 L1252,1020 Q1261,1018 1261,1012 L1261,1000 Z" fill="#0047ab" stroke="#0047ab" stroke-width="2" stroke-linejoin="round"/>
<ellipse cx="1244.5" cy="989" rx="24.5" ry="9" transform="rotate(29 1244.5 989)" fill="#0047ab" stroke="#0047ab" stroke-width="1.5"/>
<path d="M1228,979.5 C1236,978 1252,985 1262,995.5" fill="none" stroke="#fff" stroke-width="1.6" stroke-linecap="round"/>
<path d="M1231,990 L1250,1001" fill="none" stroke="#fff" stroke-width="1.5" stroke-linecap="round"/>
<ellipse cx="1240" cy="988" rx="3.2" ry="1.8" transform="rotate(29 1240 988)" fill="#fff"/>
<path d="M1253,1003 C1256,1008 1256,1014 1252,1019" fill="none" stroke="#fff" stroke-width="1.3"/>
<path d="M1220,1011 L1235,1018.3 L1237.5,1036.7" fill="none" stroke="#fff" stroke-width="1.5" stroke-linejoin="round"/>
<path d="M1242.5,1022.5 L1247,1025.5 L1245.5,1039.5 L1242.5,1026 Z" fill="#fff"/>
<path d="M1253,1025.8 L1266.5,1035 Q1269.5,1040 1270.5,1046 L1273.5,1061.5" fill="none" stroke="#fff" stroke-width="1.5" stroke-linejoin="round"/>
<text transform="matrix(0.8660,0.5000,-0.7070,0.7070,500.8,574.0)" x="0" y="0" text-anchor="middle" dominant-baseline="central" font-size="33" fill="#0047ab" font-weight="normal" letter-spacing="6.5" class="lt">威胁情报</text>
<text transform="matrix(0.8660,0.5000,-0.7070,0.7070,195.0,865.5)" x="0" y="0" text-anchor="middle" dominant-baseline="central" font-size="33" fill="#0047ab" font-weight="normal" letter-spacing="6.5" class="lt">正常流量</text>
<text transform="matrix(0.8660,0.5000,-0.7070,0.7070,618.0,985.0)" x="0" y="0" text-anchor="middle" dominant-baseline="central" font-size="32" fill="#0047ab" font-weight="normal" letter-spacing="6" class="lt">DNS引流</text>
<text transform="matrix(0.8660,0.5000,-0.7070,0.7070,631.5,1139.0)" x="0" y="0" text-anchor="middle" dominant-baseline="central" font-size="33" fill="#0047ab" font-weight="normal" letter-spacing="6.5" class="lt">攻击流量</text>
<text transform="matrix(0.8660,0.5000,-0.7070,0.7070,1045.6,1009.3)" x="0" y="0" text-anchor="middle" dominant-baseline="central" font-size="27" fill="#0047ab" font-weight="normal" letter-spacing="0" class="lt">7*24小时值守</text>
<text transform="matrix(0.8660,0.5000,-0.7070,0.7070,1212.2,903.0)" x="0" y="0" text-anchor="middle" dominant-baseline="central" font-size="33" fill="#0047ab" font-weight="normal" letter-spacing="6.5" class="lt">安全报表</text>
<text transform="matrix(0.8746,-0.4848,0.4848,0.8746,902.7,467.9)" x="0" y="0" text-anchor="middle" dominant-baseline="central" font-size="27" fill="#0047ab" font-weight="normal" letter-spacing="1" class="lt">清洗后流量</text>
<text transform="matrix(0.8746,-0.4848,0.4848,0.8746,1030.4,531.3)" x="0" y="0" text-anchor="middle" dominant-baseline="central" font-size="27" fill="#0047ab" font-weight="normal" letter-spacing="1" class="lt">清洗后流量</text>
<text transform="matrix(0.8746,-0.4848,0.4848,0.8746,1130.2,584.7)" x="0" y="0" text-anchor="middle" dominant-baseline="central" font-size="27" fill="#0047ab" font-weight="normal" letter-spacing="1" class="lt">清洗后流量</text>
<text transform="matrix(0.9150,-0.4000,0.1600,1.0000,1510.0,965.0)" x="0" y="0" text-anchor="middle" dominant-baseline="central" font-size="32" fill="#0047ab" font-weight="normal" letter-spacing="8" class="lt">电话，邮件通知</text>
<polygon points="608.0,596.3 620.2,597.8 615.6,585.6" fill="#0047ab"/>
<polygon points="633.1,444.1 646.8,444.9 640.7,455.5" fill="#0047ab"/>
<polygon points="1030.0,420.0 1044.9,420.0 1038.0,431.3" fill="#0047ab"/>
<polygon points="1058.7,430.0 1074.0,430.0 1067.3,442.0" fill="#0047ab"/>
<polygon points="1155.5,484.0 1171.3,484.0 1164.3,495.4" fill="#0047ab"/>
<polygon points="1185.3,494.2 1201.0,494.2 1194.0,505.9" fill="#0047ab"/>
<polygon points="1255.3,537.0 1270.1,537.0 1263.1,548.8" fill="#0047ab"/>
<polygon points="1285.0,547.0 1299.9,547.0 1292.9,558.4" fill="#0047ab"/>
<polygon points="342.3,918.7 355.5,919.7 350.8,907.4" fill="#0047ab"/>
<polygon points="342.3,943.2 355.5,944.2 350.8,931.9" fill="#0047ab"/>
<polygon points="523.4,899.5 537.8,898.7 531.0,910.1" fill="#0047ab"/>
<polygon points="553.0,910.1 567.5,909.3 560.6,920.8" fill="#0047ab"/>
<polygon points="507.4,1020.4 521.0,1022.7 512.7,1032.6" fill="#0047ab"/>
<polygon points="533.2,1007.5 547.0,1010.5 537.8,1019.7" fill="#0047ab"/>
<polygon points="1002.9,927.1 1017.1,930.2 1010.0,940.3" fill="#0047ab"/>
<polygon points="1137.8,1027.6 1151.0,1028.6 1145.0,1016.4" fill="#0047ab"/>
<polygon points="1148.0,836.8 1161.2,838.8 1152.0,848.0" fill="#0047ab"/>
<polygon points="1389.6,797.4 1402.6,795.7 1397.4,807.0" fill="#0047ab"/>
<polygon points="1519.0,806.0 1532.2,809.6 1522.6,818.3" fill="#0047ab"/>
<polygon points="1545.2,794.8 1558.3,798.3 1548.7,806.1" fill="#0047ab"/></svg></body></html>
